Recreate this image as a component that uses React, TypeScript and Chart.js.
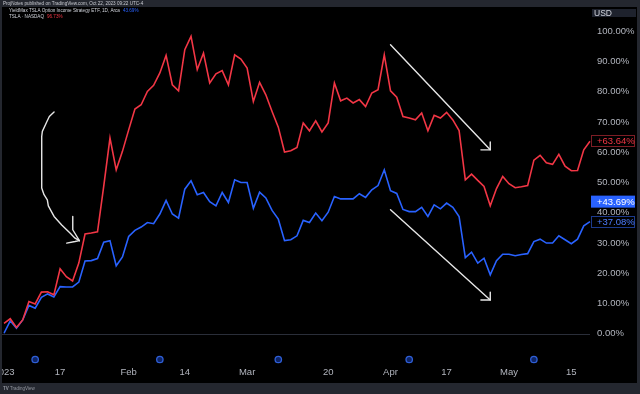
import { useEffect, useRef } from 'react';
import { Chart, registerables } from 'chart.js';

Chart.register(...registerables);

// Trading days shown on the chart
const dates: string[] = [
  '2023-01-03', '2023-01-04', '2023-01-05', '2023-01-06', '2023-01-09', '2023-01-10', '2023-01-11', '2023-01-12', '2023-01-13',
  '2023-01-17', '2023-01-18', '2023-01-19', '2023-01-20', '2023-01-23', '2023-01-24', '2023-01-25', '2023-01-26', '2023-01-27',
  '2023-01-30', '2023-01-31',
  '2023-02-01', '2023-02-02', '2023-02-03', '2023-02-06', '2023-02-07', '2023-02-08', '2023-02-09', '2023-02-10', '2023-02-13',
  '2023-02-14', '2023-02-15', '2023-02-16', '2023-02-17', '2023-02-21', '2023-02-22', '2023-02-23', '2023-02-24', '2023-02-27',
  '2023-02-28',
  '2023-03-01', '2023-03-02', '2023-03-03', '2023-03-06', '2023-03-07', '2023-03-08', '2023-03-09', '2023-03-10', '2023-03-13',
  '2023-03-14', '2023-03-15', '2023-03-16', '2023-03-17', '2023-03-20', '2023-03-21', '2023-03-22', '2023-03-23', '2023-03-24',
  '2023-03-27', '2023-03-28', '2023-03-29', '2023-03-30', '2023-03-31',
  '2023-04-03', '2023-04-04', '2023-04-05', '2023-04-06', '2023-04-10', '2023-04-11', '2023-04-12', '2023-04-13', '2023-04-14',
  '2023-04-17', '2023-04-18', '2023-04-19', '2023-04-20', '2023-04-21', '2023-04-24', '2023-04-25', '2023-04-26', '2023-04-27',
  '2023-04-28',
  '2023-05-01', '2023-05-02', '2023-05-03', '2023-05-04', '2023-05-05', '2023-05-08', '2023-05-09', '2023-05-10', '2023-05-11',
  '2023-05-12', '2023-05-15', '2023-05-16', '2023-05-17', '2023-05-18',
];

// TSLA · NASDAQ (red), % change
const tslaPct: number[] = [
  3.5, 5.0, 2.1, 4.6, 10.7, 9.9, 13.8, 13.9, 12.9, 21.5,
  18.9, 17.5, 23.4, 33.0, 33.3, 33.7, 48.8, 64.7, 54.2, 60.3,
  67.4, 74.3, 75.7, 80.1, 82.1, 86.2, 92.0, 82.3, 80.3, 93.9,
  98.3, 87.3, 92.8, 82.9, 85.9, 87.0, 82.3, 92.2, 90.8, 87.8,
  76.8, 83.1, 79.0, 73.5, 68.3, 60.1, 60.5, 61.6, 69.7, 67.1,
  70.4, 66.7, 69.7, 82.9, 77.0, 77.9, 76.3, 77.4, 75.1, 79.6,
  80.7, 92.2, 80.3, 78.2, 71.8, 71.3, 70.7, 73.0, 67.1, 72.2,
  71.3, 73.2, 70.7, 67.2, 50.9, 52.8, 50.7, 48.7, 42.3, 48.0,
  52.0, 49.6, 48.3, 48.6, 49.0, 57.4, 59.0, 56.5, 56.0, 59.3,
  55.4, 53.9, 54.0, 60.8, 63.64,
];

// YieldMax TSLA Option Income Strategy ETF (blue), % change
const tslyPct: number[] = [
  0.2, 4.3, 1.9, 4.6, 9.4, 8.5, 12.1, 13.2, 12.2, 15.6,
  15.5, 15.5, 17.1, 24.1, 24.2, 24.9, 30.3, 30.8, 22.5, 25.4,
  32.2, 34.2, 35.3, 36.8, 36.4, 39.6, 44.1, 39.6, 38.2, 47.8,
  50.6, 46.0, 46.7, 43.7, 42.3, 46.7, 43.4, 50.9, 50.0, 50.0,
  41.5, 46.8, 44.9, 40.8, 37.9, 30.8, 31.1, 32.4, 37.5, 36.8,
  39.9, 37.4, 40.2, 45.4, 44.6, 44.6, 44.6, 46.3, 45.1, 47.6,
  49.0, 54.2, 47.3, 46.4, 41.1, 40.4, 40.4, 41.8, 38.8, 42.6,
  41.3, 43.2, 41.8, 38.8, 25.2, 27.0, 23.4, 25.0, 19.5, 24.2,
  26.3, 26.3, 25.8, 26.2, 26.5, 30.5, 31.3, 30.0, 30.0, 32.4,
  31.1, 29.8, 31.3, 35.7, 37.08,
];

const xTickDates: string[] = ['2023-01-03', '2023-01-17', '2023-02-01', '2023-02-14', '2023-03-01', '2023-03-20', '2023-04-03', '2023-04-17', '2023-05-01', '2023-05-15'];
const xTickTexts: string[] = ['2023', '17', 'Feb', '14', 'Mar', '20', 'Apr', '17', 'May', '15'];
const yTickValues: number[] = [0, 10, 20, 30, 40, 50, 60, 70, 80, 90, 100];
const dividendDates: string[] = ['2023-01-10', '2023-02-08', '2023-03-08', '2023-04-06', '2023-05-05'];

const lastTsla = 63.64;
const lastTslyMain = 43.69;
const lastTsly = 37.08;

// Hand-drawn annotations, in [day index, percent]
const curvedArrow: number[][] = [
  [8.03, 73.3], [7.27, 71.8], [6.85, 70.0], [6.15, 66.9], [6.05, 65.2], [6.05, 48.2], [6.42, 46.0],
  [6.95, 44.3], [7.11, 42.3], [8.03, 38.8], [9.26, 36.0], [10.59, 33.3], [11.4, 31.6], [12.09, 30.8],
];
const curvedHeadA: number[][] = [[11.03, 38.8], [11.03, 34.4], [12.09, 30.8]];
const curvedHeadB: number[][] = [[10.06, 30.0], [11.4, 30.5], [12.09, 30.8]];
const arrowUpper: number[][] = [[62.0, 95.5], [78.0, 60.8]];
const arrowUpperHead: number[][] = [[76.5, 60.8], [78.0, 60.8], [78.0, 63.4]];
const arrowLower: number[][] = [[62.0, 41.0], [78.0, 11.2]];
const arrowLowerHead: number[][] = [[76.5, 11.2], [78.0, 11.2], [78.0, 13.8]];

const RED = '#f23645';
const BLUE = '#2962ff';
const AXIS_TEXT = '#b2b5be';
const FRAME = '#24272f';
const FONT = '"Liberation Sans", Arial, sans-serif';

const tvPlugin = {
  id: 'tvPlugin',
  beforeDraw(chart: any) {
    const { ctx, width, height, chartArea } = chart;
    ctx.save();
    ctx.fillStyle = '#000000';
    ctx.fillRect(0, 0, width, height);
    const y0 = Math.round(chart.scales.y.getPixelForValue(0)) + 0.5;
    ctx.strokeStyle = '#2a2e39';
    ctx.lineWidth = 1;
    ctx.beginPath();
    ctx.moveTo(chartArea.left - 2, y0);
    ctx.lineTo(chartArea.right, y0);
    ctx.stroke();
    ctx.restore();
  },
  afterDatasetsDraw(chart: any) {
    const { ctx } = chart;
    const xs = chart.scales.x;
    const ys = chart.scales.y;
    const path = (pts: number[][]) => {
      ctx.beginPath();
      pts.forEach((p, i) => {
        const px = xs.getPixelForValue(p[0]);
        const py = ys.getPixelForValue(p[1]);
        if (i === 0) ctx.moveTo(px, py);
        else ctx.lineTo(px, py);
      });
      ctx.stroke();
    };
    ctx.save();
    ctx.strokeStyle = '#e6e6e6';
    ctx.lineWidth = 1.4;
    ctx.lineJoin = 'round';
    ctx.lineCap = 'round';
    [curvedArrow, curvedHeadA, curvedHeadB, arrowUpper, arrowUpperHead, arrowLower, arrowLowerHead].forEach(path);
    ctx.restore();
  },
  afterDraw(chart: any) {
    const { ctx, width, height, chartArea } = chart;
    const xs = chart.scales.x;
    const ys = chart.scales.y;
    ctx.save();

    // price axis labels
    ctx.font = `9.5px ${FONT}`;
    ctx.textBaseline = 'middle';
    ctx.textAlign = 'left';
    ctx.fillStyle = AXIS_TEXT;
    const labelX = chartArea.right + 7;
    yTickValues.forEach((v) => {
      ctx.fillText(`${v.toFixed(2)}%`, labelX, ys.getPixelForValue(v));
    });

    // last value boxes
    const box = (v: number, text: string, fill: string, stroke: string, color: string) => {
      const cy = ys.getPixelForValue(v);
      const bx = chartArea.right + 1;
      const bw = 44;
      const bh = 12;
      ctx.fillStyle = fill;
      ctx.fillRect(bx, cy - bh / 2, bw, bh);
      if (stroke) {
        ctx.strokeStyle = stroke;
        ctx.lineWidth = 1;
        ctx.strokeRect(bx + 0.5, Math.round(cy - bh / 2) + 0.5, bw - 1, bh - 1);
      }
      ctx.fillStyle = color;
      ctx.fillText(text, labelX, cy + 0.5);
    };
    box(lastTsla, `+${lastTsla.toFixed(2)}%`, '#000000', '#7d1d25', RED);
    box(lastTslyMain, `+${lastTslyMain.toFixed(2)}%`, BLUE, '', '#ffffff');
    box(lastTsly, `+${lastTsly.toFixed(2)}%`, '#000000', '#1c3a8c', '#4d7dff');

    // USD tag
    ctx.fillStyle = '#1e222d';
    ctx.fillRect(chartArea.right + 2, 9, 44, 8);
    ctx.fillStyle = '#d1d4dc';
    ctx.font = `8.5px ${FONT}`;
    ctx.fillText('USD', chartArea.right + 4, 13.5);

    // time axis labels
    ctx.font = `9.5px ${FONT}`;
    ctx.textAlign = 'center';
    ctx.fillStyle = AXIS_TEXT;
    xTickDates.forEach((d, i) => {
      const idx = dates.indexOf(d);
      ctx.fillText(xTickTexts[i], xs.getPixelForValue(idx), 372);
    });

    // dividend markers
    dividendDates.forEach((d) => {
      const idx = dates.indexOf(d);
      const px = xs.getPixelForValue(idx);
      ctx.beginPath();
      ctx.arc(px, 359.5, 3.2, 0, Math.PI * 2);
      ctx.fillStyle = '#0d2466';
      ctx.fill();
      ctx.strokeStyle = '#2f5fd6';
      ctx.lineWidth = 1.3;
      ctx.stroke();
    });

    // frame
    ctx.fillStyle = FRAME;
    ctx.fillRect(0, 0, width, 7);
    ctx.fillRect(0, 0, 2, height);
    ctx.fillRect(width - 3, 0, 3, height);
    ctx.fillRect(0, height - 11, width, 11);

    // header
    ctx.textAlign = 'left';
    ctx.fillStyle = '#c7c9d0';
    ctx.font = `4.6px ${FONT}`;
    ctx.fillText('ProjNotes published on TradingView.com, Oct 22, 2023 09:22 UTC-4', 3, 3.8);

    // legend
    ctx.font = `4.6px ${FONT}`;
    const l1 = 'YieldMax TSLA Option Income Strategy ETF, 1D, Arca';
    ctx.fillStyle = '#d1d4dc';
    ctx.fillText(l1, 9, 11);
    ctx.fillStyle = BLUE;
    ctx.fillText('43.69%', 9 + ctx.measureText(l1).width + 3, 11);
    const l2 = 'TSLA · NASDAQ';
    ctx.fillStyle = '#d1d4dc';
    ctx.fillText(l2, 9, 16.5);
    ctx.fillStyle = RED;
    ctx.fillText('96.73%', 9 + ctx.measureText(l2).width + 3, 16.5);

    // footer logo
    ctx.fillStyle = '#9598a1';
    ctx.font = `bold 4.5px ${FONT}`;
    ctx.fillText('TV', 3, height - 5.5);
    ctx.font = `4.5px ${FONT}`;
    ctx.fillText('TradingView', 10, height - 5.5);

    ctx.restore();
  },
};

export default function App() {
  const canvasRef = useRef<HTMLCanvasElement | null>(null);

  useEffect(() => {
    document.body.style.margin = '0';
    document.body.style.background = '#000';
    const canvas = canvasRef.current;
    if (!canvas) return;
    const chart = new Chart(canvas, {
      type: 'line',
      data: {
        labels: dates,
        datasets: [
          {
            label: 'TSLA · NASDAQ',
            data: tslaPct,
            borderColor: RED,
            borderWidth: 1.6,
            pointRadius: 0,
            tension: 0,
            fill: false,
          },
          {
            label: 'YieldMax TSLA Option Income Strategy ETF',
            data: tslyPct,
            borderColor: BLUE,
            borderWidth: 1.6,
            pointRadius: 0,
            tension: 0,
            fill: false,
          },
        ],
      },
      options: {
        responsive: false,
        animation: false,
        events: [],
        layout: { padding: { left: 4, right: 50, top: 7, bottom: 45 } },
        plugins: { legend: { display: false }, tooltip: { enabled: false } },
        scales: {
          x: { type: 'category', display: false, offset: false },
          y: { type: 'linear', display: false, min: -5, max: 108 },
        },
      },
      plugins: [tvPlugin],
    });
    return () => chart.destroy();
  }, []);

  return (
    <div style={{ width: 640, height: 394 }}>
      <canvas ref={canvasRef} width={640} height={394} style={{ display: 'block' }} />
    </div>
  );
}
